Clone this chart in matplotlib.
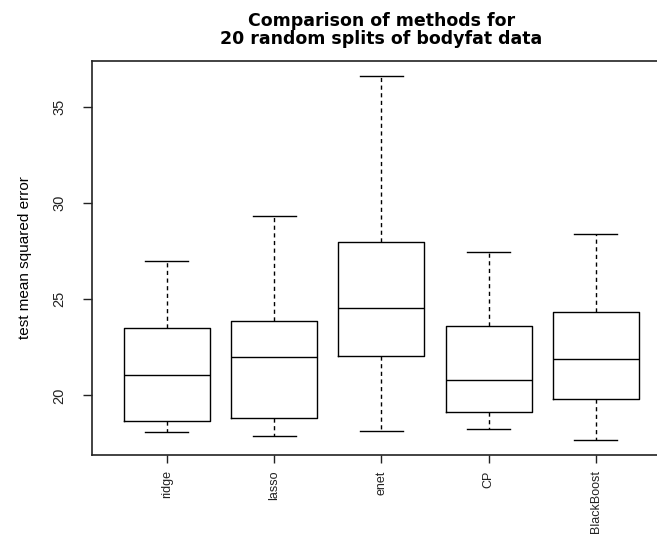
import matplotlib
matplotlib.use("Agg")
import matplotlib.pyplot as plt

# values (R-style boxplot stats)
methods = ["ridge", "lasso", "enet", "CP", "BlackBoost"]
whisk_lo = [18.09, 17.90, 18.14, 18.26, 17.66]
q1 = [18.66, 18.83, 22.06, 19.16, 19.82]
medians = [21.05, 22.00, 24.54, 20.79, 21.88]
q3 = [23.52, 23.88, 28.00, 23.59, 24.35]
whisk_hi = [26.98, 29.35, 36.62, 27.46, 28.38]
yticks = [20, 25, 30, 35]

stats = []
for i, name in enumerate(methods):
    stats.append(dict(label=name, whislo=whisk_lo[i], q1=q1[i], med=medians[i],
                      q3=q3[i], whishi=whisk_hi[i], fliers=[]))

W, H = 657, 535
fig = plt.figure(figsize=(W / 100, H / 100), dpi=100)
# plot region: left edge at x=92, top at y=61, bottom at y=455 (right edge runs off the image)
ax = fig.add_axes([91.7 / W, 80 / H, (671 - 91.7) / W, 394 / H])

lw = 1.0
dash = (0, (3, 2.5))
ax.bxp(stats, positions=range(1, len(methods) + 1), widths=0.8, showfliers=False,
       boxprops=dict(color="black", linewidth=lw),
       medianprops=dict(color="black", linewidth=lw),
       whiskerprops=dict(color="black", linewidth=lw, linestyle=dash),
       capprops=dict(color="black", linewidth=lw))

ax.set_xlim(0.3, len(methods) + 0.7)
ax.set_ylim(16.9, 37.4)
ax.set_yticks(yticks)
ax.set_yticklabels([str(t) for t in yticks], rotation=90, va="center",
                   family="Liberation Sans", fontsize=10.5)
ax.set_xticklabels(methods, rotation=90, family="Liberation Sans", fontsize=9)

for s in ax.spines.values():
    s.set_linewidth(1.2)
    s.set_color("#222222")
ax.tick_params(axis="y", length=6.5, width=1, pad=12, colors="#222222")
ax.tick_params(axis="x", length=6, width=1, pad=5, colors="#222222")

ax.set_title("Comparison of methods for\n20 random splits of bodyfat data",
             fontweight="bold", fontsize=12.5, family="DejaVu Sans",
             linespacing=1.05, pad=12)

fig.text(25 / W, 1 - 258 / H, "test mean squared error", rotation=90,
         ha="center", va="center", family="Liberation Sans", fontsize=11)

fig.savefig("out.png", dpi=100)
